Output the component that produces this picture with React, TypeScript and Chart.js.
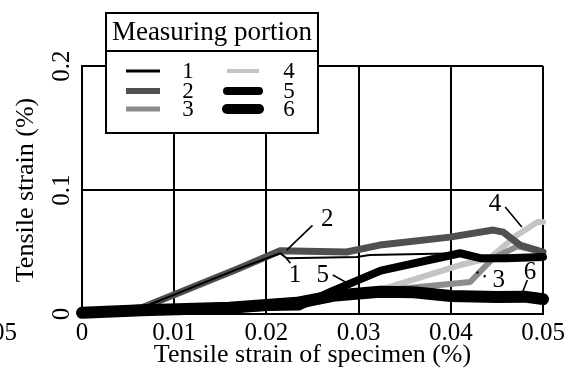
import { useEffect, useRef } from "react";
import { Chart, registerables } from "chart.js";

Chart.register(...registerables);

const SERIF = "'Liberation Serif', 'Times New Roman', serif";

// Axis ticks
const xTickValues = [0, 0.01, 0.02, 0.03, 0.04, 0.05];
const xTickLabels = ["0", "0.01", "0.02", "0.03", "0.04", "0.05"];
const yTickValues = [0, 0.1, 0.2];
const yTickLabels = ["0", "0.1", "0.2"];

// Measuring portions: [specimen strain, local tensile strain] (%)
const portion1: [number, number][] = [
  [0, 0.001], [0.0065, 0.005], [0.0168, 0.036], [0.0215, 0.049], [0.0222, 0.045],
  [0.0298, 0.046], [0.0312, 0.0476], [0.041, 0.049], [0.0432, 0.045], [0.046, 0.045], [0.05, 0.046],
];
const portion2: [number, number][] = [
  [0, 0.001], [0.0065, 0.005], [0.0168, 0.036], [0.0215, 0.051], [0.0287, 0.05],
  [0.0323, 0.0556], [0.0399, 0.062], [0.0446, 0.0677], [0.0457, 0.066], [0.0475, 0.0556], [0.05, 0.05],
];
const portion3: [number, number][] = [
  [0, 0], [0.0065, 0.003], [0.0233, 0.006], [0.0275, 0.013], [0.0326, 0.019],
  [0.0421, 0.0258], [0.0446, 0.045], [0.0472, 0.0545], [0.05, 0.05],
];
const portion4: [number, number][] = [
  [0, 0], [0.0065, 0.003], [0.0233, 0.006], [0.0275, 0.013], [0.0334, 0.0218],
  [0.041, 0.0395], [0.0442, 0.045], [0.0472, 0.0637], [0.0494, 0.0742], [0.05, 0.0742],
];
const portion5: [number, number][] = [
  [0, 0.001], [0.0065, 0.004], [0.0235, 0.006], [0.027, 0.018], [0.0324, 0.035],
  [0.041, 0.049], [0.0432, 0.045], [0.046, 0.045], [0.05, 0.046],
];
const portion6: [number, number][] = [
  [0, 0.001], [0.0065, 0.003], [0.016, 0.005], [0.0233, 0.009], [0.0275, 0.015],
  [0.0323, 0.018], [0.036, 0.0175], [0.04, 0.0145], [0.045, 0.0137], [0.048, 0.014], [0.05, 0.012],
];

const portionNames = ["1", "2", "3", "4", "5", "6"];
const legendTitle = "Measuring portion";
const xTitle = "Tensile strain of specimen (%)";
const yTitle = "Tensile strain (%)";

// Callout numbers next to the curves, in data units: label centre, leader start, leader end
const callouts: { text: string; at: [number, number]; from: [number, number]; to: [number, number]; dotted?: boolean }[] = [
  { text: "1", at: [0.0231, 0.031], from: [0.0222, 0.0445], to: [0.0226, 0.041] },
  { text: "2", at: [0.0266, 0.0765], from: [0.025, 0.0715], to: [0.0222, 0.0515] },
  { text: "3", at: [0.0452, 0.027], from: [0.0428, 0.0338], to: [0.0441, 0.0288], dotted: true },
  { text: "4", at: [0.0448, 0.088], from: [0.0459, 0.0863], to: [0.0477, 0.0702] },
  { text: "5", at: [0.0261, 0.031], from: [0.0272, 0.0315], to: [0.0289, 0.0245] },
  { text: "6", at: [0.0486, 0.0335], from: [0.0483, 0.0274], to: [0.0478, 0.018] },
];

const styles = [
  { color: "#000000", width: 2, legendWidth: 3, order: 0 },
  { color: "#505050", width: 7, legendWidth: 6, order: 3 },
  { color: "#8c8c8c", width: 6, legendWidth: 5, order: 4 },
  { color: "#c4c4c4", width: 6, legendWidth: 4, order: 5 },
  { color: "#000000", width: 8, legendWidth: 8, order: 1 },
  { color: "#000000", width: 12, legendWidth: 10, order: 2 },
];

const series = [portion1, portion2, portion3, portion4, portion5, portion6];

const overlayPlugin = {
  id: "overlay",
  afterDraw(chart: any) {
    const { ctx, scales } = chart;
    const xs = scales.x;
    const ys = scales.y;
    const px = (v: number) => xs.getPixelForValue(v);
    const py = (v: number) => ys.getPixelForValue(v);
    ctx.save();

    // callout leaders and numbers
    ctx.fillStyle = "#000";
    ctx.strokeStyle = "#000";
    ctx.font = `25px ${SERIF}`;
    ctx.textAlign = "center";
    ctx.textBaseline = "middle";
    for (const c of callouts) {
      ctx.lineWidth = c.dotted ? 2.5 : 1.6;
      ctx.setLineDash(c.dotted ? [2, 6] : []);
      ctx.beginPath();
      ctx.moveTo(px(c.from[0]), py(c.from[1]));
      ctx.lineTo(px(c.to[0]), py(c.to[1]));
      ctx.stroke();
      ctx.fillText(c.text, px(c.at[0]), py(c.at[1]));
    }
    ctx.setLineDash([]);

    // legend table
    const bx = 106, by = 13, bw = 212, bh = 120, hy = 51;
    ctx.fillStyle = "#fff";
    ctx.fillRect(bx, by, bw, bh);
    ctx.strokeStyle = "#000";
    ctx.lineWidth = 2;
    ctx.strokeRect(bx, by, bw, bh);
    ctx.beginPath();
    ctx.moveTo(bx, hy);
    ctx.lineTo(bx + bw, hy);
    ctx.stroke();
    ctx.fillStyle = "#000";
    ctx.font = `27px ${SERIF}`;
    ctx.fillText(legendTitle, bx + bw / 2, 33);

    const rows = [71, 91, 109];
    const cols = [
      { x0: 126, x1: 160, num: 188 },
      { x0: 227, x1: 259, num: 289 },
    ];
    ctx.font = `23px ${SERIF}`;
    portionNames.forEach((name, i) => {
      const col = cols[Math.floor(i / 3)];
      const y = rows[i % 3];
      const st = styles[i];
      ctx.strokeStyle = st.color;
      ctx.lineWidth = st.legendWidth;
      ctx.lineCap = i >= 4 ? "round" : "butt";
      ctx.beginPath();
      ctx.moveTo(col.x0, y);
      ctx.lineTo(col.x1, y);
      ctx.stroke();
      ctx.fillStyle = "#000";
      ctx.fillText(name, col.num, y + 1);
    });

    // edge of the neighbouring axis label
    ctx.font = `25px ${SERIF}`;
    ctx.textAlign = "right";
    ctx.fillText("0.05", 17, 333);
    ctx.restore();
  },
};

export default function App() {
  const ref = useRef<HTMLCanvasElement | null>(null);

  useEffect(() => {
    const canvas = ref.current;
    if (!canvas) return;
    Chart.defaults.font.family = SERIF;
    Chart.defaults.color = "#000";

    const chart = new Chart(canvas, {
      type: "line",
      data: {
        datasets: series.map((pts, i) => ({
          label: portionNames[i],
          data: pts.map(([x, y]) => ({ x, y })),
          borderColor: styles[i].color,
          borderWidth: styles[i].width,
          order: styles[i].order,
          pointRadius: 0,
          fill: false,
          tension: 0,
          borderCapStyle: "round" as const,
          borderJoinStyle: "round" as const,
          clip: false as any,
        })),
      },
      options: {
        responsive: false,
        animation: false,
        events: [],
        layout: { padding: { left: 0, right: 41, top: 66, bottom: 0 } },
        plugins: {
          legend: { display: false },
          tooltip: { enabled: false },
        },
        scales: {
          x: {
            type: "linear",
            min: 0,
            max: 0.05,
            afterBuildTicks: (scale: any) => {
              scale.ticks = xTickValues.map((v) => ({ value: v }));
            },
            afterFit: (scale: any) => {
              scale.height = 67;
            },
            ticks: {
              callback: (_v: any, idx: number) => xTickLabels[idx],
              font: { size: 25, family: SERIF },
              color: "#000",
              padding: 4,
              maxRotation: 0,
              autoSkip: false,
            },
            grid: { color: "#000", lineWidth: 2, drawTicks: false },
            border: { color: "#000", width: 2 },
            title: {
              display: true,
              text: xTitle,
              font: { size: 26, family: SERIF },
              color: "#000",
              padding: { top: 0, bottom: 10 },
            },
          },
          y: {
            type: "linear",
            min: 0,
            max: 0.2,
            afterBuildTicks: (scale: any) => {
              scale.ticks = yTickValues.map((v) => ({ value: v }));
            },
            afterFit: (scale: any) => {
              scale.width = 82;
            },
            ticks: {
              callback: (_v: any, idx: number) => yTickLabels[idx],
              font: { size: 25, family: SERIF },
              color: "#000",
              padding: 4,
              minRotation: 90,
              maxRotation: 90,
              crossAlign: "center",
              autoSkip: false,
            },
            grid: { color: "#000", lineWidth: 2, drawTicks: false },
            border: { color: "#000", width: 2 },
            title: {
              display: true,
              text: yTitle,
              font: { size: 26, family: SERIF },
              color: "#000",
              padding: { top: 11, bottom: 0 },
            },
          },
        },
      },
      plugins: [overlayPlugin],
    });

    return () => chart.destroy();
  }, []);

  return (
    <div style={{ position: "fixed", left: 0, top: 0, width: 584, height: 381, background: "#fff" }}>
      <canvas ref={ref} width={584} height={381} style={{ width: 584, height: 381, display: "block" }} />
    </div>
  );
}
